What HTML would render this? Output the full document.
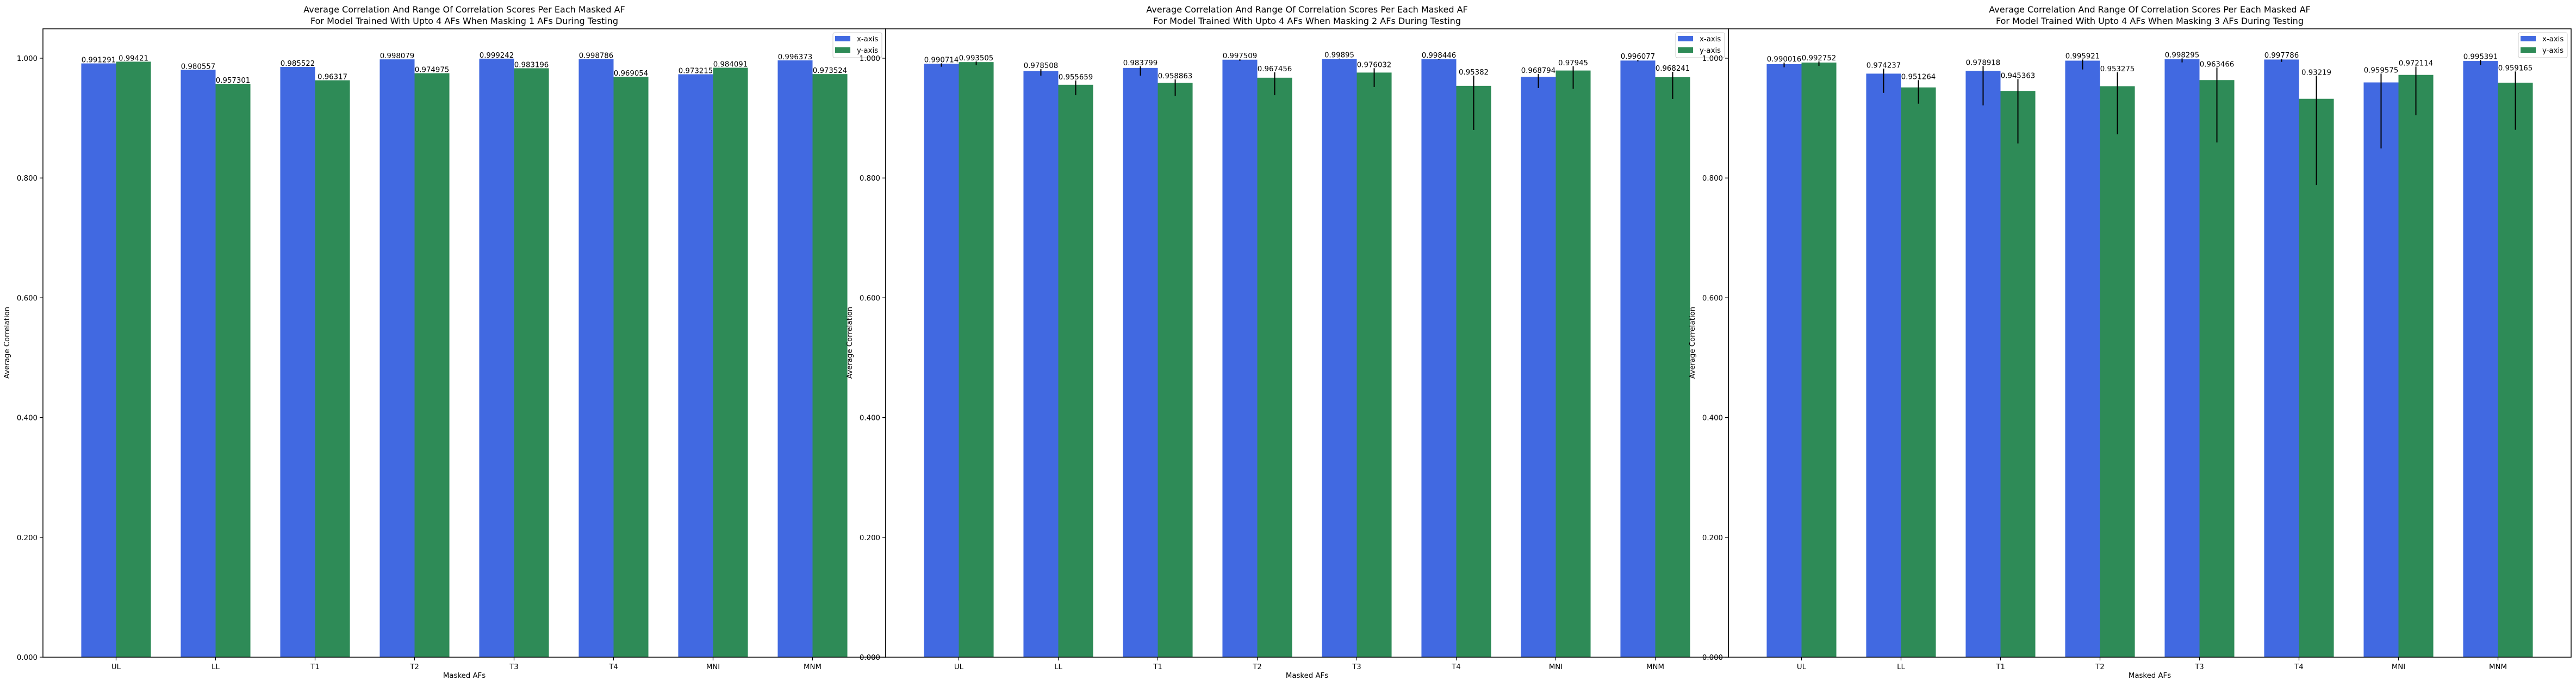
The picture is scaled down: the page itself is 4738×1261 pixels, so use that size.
<!DOCTYPE html>
<html><head><meta charset="utf-8">
<style>
html,body{margin:0;padding:0;background:#fff;}
svg{display:block;font-family:"DejaVu Sans","Liberation Sans",sans-serif;}
</style></head>
<body>
<svg id="chart" width="4738" height="1261" viewBox="0 0 4738 1261" xmlns="http://www.w3.org/2000/svg"></svg>
<script>
const categories = ["UL","LL","T1","T2","T3","T4","MNI","MNM"];
const yTicks = [0, 0.2, 0.4, 0.6, 0.8, 1.0];
const yTickLabels = ["0.000","0.200","0.400","0.600","0.800","1.000"];
const maskCounts = [1, 2, 3];

const p1X = [0.991291,0.980557,0.985522,0.998079,0.999242,0.998786,0.973215,0.996373];
const p1Y = [0.99421,0.957301,0.96317,0.974975,0.983196,0.969054,0.984091,0.973524];
const p1XLo = p1X.slice(), p1XHi = p1X.slice();
const p1YLo = p1Y.slice(), p1YHi = p1Y.slice();

const p2X = [0.990714,0.978508,0.983799,0.997509,0.99895,0.998446,0.968794,0.996077];
const p2Y = [0.993505,0.955659,0.958863,0.967456,0.976032,0.95382,0.97945,0.968241];
const p2XHi = [0.9915,0.9818,0.9864,0.9982,0.9994,0.9991,0.9737,0.9973];
const p2XLo = [0.9858,0.9709,0.9709,0.9957,0.9982,0.9975,0.9501,0.9948];
const p2YHi = [0.9946,0.9628,0.9646,0.9764,0.9834,0.9709,0.9864,0.9773];
const p2YLo = [0.9882,0.9382,0.9373,0.9382,0.9519,0.8801,0.9491,0.9319];

const p3X = [0.990016,0.974237,0.978918,0.995921,0.998295,0.997786,0.959575,0.995391];
const p3Y = [0.992752,0.951264,0.945363,0.953275,0.963466,0.93219,0.972114,0.959165];
const p3XHi = [0.9927,0.9825,0.9870,0.9979,0.9997,0.9991,0.9743,0.9970];
const p3XLo = [0.9848,0.9421,0.9213,0.9812,0.9930,0.9939,0.8495,0.9888];
const p3YHi = [0.9946,0.9634,0.9652,0.9764,0.9843,0.9706,0.9860,0.9779];
const p3YLo = [0.9873,0.9240,0.8577,0.8731,0.8595,0.7883,0.9049,0.8804];

const panels = [
  {x:p1X,y:p1Y,xLo:p1XLo,xHi:p1XHi,yLo:p1YLo,yHi:p1YHi},
  {x:p2X,y:p2Y,xLo:p2XLo,xHi:p2XHi,yLo:p2YLo,yHi:p2YHi},
  {x:p3X,y:p3Y,xLo:p3XLo,xHi:p3XHi,yLo:p3YLo,yHi:p3YHi}
];

const NS = "http://www.w3.org/2000/svg";
const svg = document.getElementById("chart");
function mk(tag, attrs, parent, text){
  const e = document.createElementNS(NS, tag);
  for (const k in attrs) e.setAttribute(k, attrs[k]);
  if (text !== undefined) e.textContent = text;
  parent.appendChild(e);
  return e;
}
const TOP=53, BOT=1208, PANEL_W=1550, LEFT0=79;
const YMAX=(BOT-TOP)/1101;
const XMIN=-0.735, XMAX=7.735, BARW=0.35;
function yScale(v){ return BOT - v/YMAX*(BOT-TOP); }

panels.forEach((p, pi) => {
  const L = LEFT0 + pi*PANEL_W, R = L + PANEL_W;
  const xScale = i => L + (i - XMIN)/(XMAX-XMIN)*(R-L);
  const g = mk("g", {}, svg);
  
  

  const series = [
    {vals:p.x, lo:p.xLo, hi:p.xHi, color:"#4169E1", off:-BARW/2, key:"x"},
    {vals:p.y, lo:p.yLo, hi:p.yHi, color:"#2E8B57", off:BARW/2, key:"y"}
  ];
  series.forEach(s => {
    s.vals.forEach((v, i) => {
      const cx = xScale(i + s.off);
      const w = xScale(BARW) - xScale(0);
      const r = mk("rect", {x:cx-w/2, y:yScale(v), width:w, height:BOT-yScale(v), fill:s.color}, g);
      
      
    });
  });
  series.forEach(s => {
    s.vals.forEach((v, i) => {
      const cx = xScale(i + s.off);
      if (s.hi[i] - s.lo[i] > 0.0005) {
        const e = mk("line", {x1:cx, x2:cx, y1:yScale(s.hi[i]), y2:yScale(s.lo[i]), stroke:"#000", "stroke-width":2}, g);
        
        
      }
      const top = Math.max(v, s.hi[i]);
      const t = mk("text", {x:cx, y:yScale(top)-2, "text-anchor":"middle", "font-size":"13.3", fill:"#000"}, g, String(v));
      
      
    });
  });

  const frame = mk("rect", {x:L, y:TOP, width:R-L, height:BOT-TOP, fill:"none", stroke:"#000", "stroke-width":1.5}, g);
  
  

  yTicks.forEach((v, i) => {
    const y = yScale(v);
    mk("line", {x1:L-6, x2:L, y1:y, y2:y, stroke:"#000", "stroke-width":1.2}, g);
    const t = mk("text", {x:L-10, y:y+5, "text-anchor":"end", "font-size":"13.3"}, g, yTickLabels[i]);
    
    
  });
  categories.forEach((c, i) => {
    const x = xScale(i);
    mk("line", {x1:x, x2:x, y1:BOT, y2:BOT+6, stroke:"#000", "stroke-width":1.2}, g);
    const t = mk("text", {x:x, y:BOT+22, "text-anchor":"middle", "font-size":"13.3"}, g, c);
    
    
  });
  const cxm = (L+R)/2;
  const xl = mk("text", {x:cxm, y:1246, "text-anchor":"middle", "font-size":"13.3"}, g, "Masked AFs");
  
  
  const yl = mk("text", {x:0, y:0, "text-anchor":"middle", "font-size":"13.3", transform:"translate("+(L-62)+",630) rotate(-90)"}, g, "Average Correlation");
  
  
  const t1 = mk("text", {x:cxm, y:23, "text-anchor":"middle", "font-size":"16"}, g, "Average Correlation And Range Of Correlation Scores Per Each Masked AF");
  
  
  const t2 = mk("text", {x:cxm, y:44, "text-anchor":"middle", "font-size":"16"}, g, "For Model Trained With Upto 4 AFs When Masking " + maskCounts[pi] + " AFs During Testing");
  
  

  const lg = mk("g", {}, g);
  
  
  mk("rect", {x:R-97, y:60, width:90, height:46, rx:3, fill:"#fff", "fill-opacity":0.8, stroke:"#ccc", "stroke-width":1}, lg);
  [["x-axis","#4169E1"],["y-axis","#2E8B57"]].forEach((e, k) => {
    const row = mk("g", {}, lg);
    
    
    mk("rect", {x:R-93, y:66+k*21, width:28, height:10, fill:e[1]}, row);
    mk("text", {x:R-53, y:76+k*21, "font-size":"13.3"}, row, e[0]);
  });
});
</script>
</body></html>
